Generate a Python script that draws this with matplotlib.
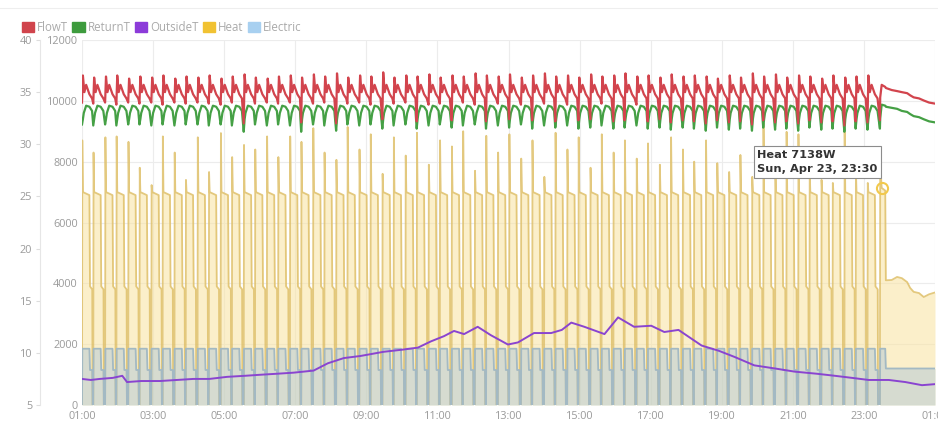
import numpy as np
import pandas as pd
import matplotlib
matplotlib.use("Agg")
import matplotlib.pyplot as plt
import matplotlib.dates as mdates
from matplotlib.patches import Patch
from matplotlib.lines import Line2D

START = pd.Timestamp("2023-04-23 01:00")

# heat pump runs: start of each run in minutes after 01:00
cycle_start = [0, 19, 39, 58, 78, 97, 117, 136, 156, 175, 195, 214, 234, 253, 273,
               292, 312, 331, 351, 370, 390, 409, 429, 448, 468, 487, 507, 526, 546,
               565, 585, 604, 624, 643, 663, 682, 702, 721, 741, 760, 780, 799, 819,
               838, 858, 877, 897, 916, 936, 955, 975, 994, 1014, 1033, 1053, 1072,
               1092, 1111, 1131, 1150, 1170, 1189, 1209, 1228, 1248, 1267, 1287,
               1306, 1326]
heat_peak = [8700, 8300, 8800, 8830, 8650, 7800, 7230, 8830, 8300, 7400, 8800, 7660,
             8940, 8150, 8550, 8400, 8830, 8150, 8830, 8650, 9100, 8300, 8060, 9140,
             8400, 8900, 7600, 8800, 8200, 8950, 7900, 8700, 8500, 9000, 7700, 8850,
             8300, 8900, 8100, 8700, 7500, 8950, 8400, 8800, 7800, 8900, 8300, 8700,
             8100, 8600, 7900, 8800, 8400, 8000, 8700, 7950, 7660, 8220, 7500, 9270,
             8400, 8980, 8900, 7700, 7400, 7300, 8980, 7700, 7300]
flow_peak = [36.6, 36.4, 36.5, 36.6, 36.3, 36.5, 36.4, 36.6, 36.3, 36.5, 36.4, 36.6,
             36.3, 36.5, 36.7, 36.4, 36.3, 36.5, 36.6, 36.4, 36.7, 36.5, 36.8, 36.4,
             36.6, 36.5, 36.9, 36.4, 36.6, 36.5, 36.7, 36.4, 36.6, 36.5, 36.8, 36.6,
             36.5, 36.7, 36.4, 36.6, 36.8, 36.5, 36.6, 36.4, 36.7, 36.5, 36.6, 36.8,
             36.5, 36.6, 36.4, 36.7, 36.5, 36.6, 36.5, 36.3, 36.6, 36.4, 36.8, 36.5,
             36.7, 36.4, 36.6, 36.5, 36.3, 36.6, 36.4, 36.5, 36.6]
flow_low = [34.0, 33.9, 34.0, 33.8, 34.0, 33.9, 34.0, 33.8, 34.0, 33.9, 34.0, 33.9,
            33.8, 34.0, 32.0, 33.9, 34.0, 33.9, 34.0, 32.1, 33.9, 34.0, 32.0, 33.9,
            34.0, 33.8, 32.4, 33.9, 34.0, 32.2, 33.8, 33.9, 32.3, 34.0, 33.8, 32.2,
            33.9, 32.4, 33.8, 32.3, 33.9, 32.2, 33.8, 32.3, 32.4, 33.9, 32.2, 32.3,
            33.8, 32.2, 32.4, 32.1, 32.3, 32.2, 32.0, 32.3, 32.1, 32.2, 31.9, 32.3,
            32.1, 32.2, 32.0, 32.3, 32.1, 32.2, 31.8, 32.2, 32.1]
return_low = [31.9, 31.8, 31.9, 31.8, 31.9, 31.9, 31.8, 31.9, 31.8, 31.9, 31.9, 31.8,
              31.9, 31.8, 31.2, 31.9, 31.8, 31.9, 31.8, 31.2, 31.9, 31.8, 31.3, 31.9,
              31.8, 31.9, 31.5, 31.8, 31.9, 31.5, 31.8, 31.9, 31.6, 31.8, 31.9, 31.5,
              31.8, 31.6, 31.9, 31.5, 31.8, 31.6, 31.8, 31.5, 31.6, 31.8, 31.5, 31.6,
              31.8, 31.5, 31.6, 31.4, 31.6, 31.5, 31.3, 31.6, 31.4, 31.5, 31.3, 31.6,
              31.4, 31.5, 31.3, 31.6, 31.4, 31.5, 31.2, 31.5, 31.4]

# levels held inside a run (minutes after run start, value)
heat_steps = [(1.5, 7000), (12.5, 6900), (13.5, 3900), (17.3, 3800)]
elec_steps = [(1.0, 1850), (12.5, 1850), (13.5, 1150), (17.3, 1150)]
flow_steps = [(4.0, 35.0), (7.0, 35.7), (12.5, 34.8), (17.0, 34.4)]
return_steps = [(3.0, 33.0), (7.0, 33.7), (12.5, 33.6), (17.0, 33.2)]

# last run and continuous running after 23:37
tail_min = [1347, 1347.5, 1350, 1356, 1357, 1367, 1376, 1384, 1393, 1398, 1404,
            1413, 1421, 1430, 1440]
tail_heat = [0, 7950, 7138, 7050, 4100, 4110, 4210, 4170, 4040, 3850, 3720, 3680,
             3550, 3640, 3700]
tail_elec = [0, 1850, 1850, 1850, 1200, 1200, 1200, 1200, 1200, 1200, 1200, 1200,
             1200, 1200, 1200]
tail_flow = [32.3, 34.5, 35.7, 35.5, 35.4, 35.2, 35.1, 35.0, 34.9, 34.7, 34.5, 34.4,
             34.2, 34.0, 33.9]
tail_return = [31.5, 32.5, 33.8, 33.7, 33.6, 33.5, 33.4, 33.2, 33.1, 32.9, 32.7,
               32.6, 32.4, 32.2, 32.1]

outside_min = [0, 15, 30, 52, 68, 76, 100, 132, 160, 188, 215, 245, 275, 301, 330,
               357, 391, 415, 442, 470, 509, 540, 567, 589, 611, 628, 645, 668, 690,
               719, 736, 763, 792, 810, 826, 848, 882, 905, 932, 961, 983, 1007,
               1046, 1075, 1102, 1135, 1170, 1203, 1240, 1271, 1300, 1328, 1362,
               1390, 1418, 1440]
outside_t = [7.5, 7.4, 7.5, 7.6, 7.8, 7.2, 7.3, 7.3, 7.4, 7.5, 7.5, 7.7, 7.8, 7.9,
             8.0, 8.1, 8.3, 9.0, 9.5, 9.7, 10.1, 10.3, 10.5, 11.1, 11.6, 12.1, 11.8,
             12.5, 11.7, 10.8, 11.0, 11.9, 11.9, 12.2, 12.9, 12.5, 11.8, 13.4, 12.5,
             12.6, 12.0, 12.2, 10.7, 10.2, 9.6, 8.8, 8.5, 8.2, 8.0, 7.8, 7.6, 7.4,
             7.4, 7.2, 6.9, 7.0]


def build(low_vals, first_vals, first_off, steps, tail):
    t, v = [], []
    for i, s in enumerate(cycle_start):
        t += [s, s + first_off]
        v += [low_vals[i], first_vals[i]]
        for off, val in steps:
            t.append(s + off)
            v.append(val)
    t += tail_min
    v += tail
    return START + pd.to_timedelta(t, unit="m"), np.array(v, dtype=float)


def build_power(peaks, steps, tail):
    t, v = [], []
    for i, s in enumerate(cycle_start):
        t += [s, s + 0.5]
        v += [0, peaks[i]]
        for off, val in steps:
            t.append(s + off)
            v.append(val)
        t.append(s + 17.9)
        v.append(0)
    t += tail_min
    v += tail
    return START + pd.to_timedelta(t, unit="m"), np.array(v, dtype=float)


heat_t, heat = build_power(heat_peak, heat_steps, tail_heat)
elec_t, elec = build_power([1850] * len(cycle_start), elec_steps, tail_elec)
flow_t, flow = build(flow_low, flow_peak, 1.5, flow_steps, tail_flow)
ret_t, ret = build(return_low, [32.4] * len(cycle_start), 1.5, return_steps, tail_return)
out_t = START + pd.to_timedelta(outside_min, unit="m")

plt.rcParams["font.family"] = ["Open Sans", "DejaVu Sans"]

fig = plt.figure(figsize=(9.38, 4.25), dpi=100)
ax = fig.add_axes([82 / 938, 20 / 425, 853 / 938, 365 / 425])
ax2 = ax.twinx()

ax.fill_between(heat_t, 0, heat, color="#f9e3a0", alpha=0.55, lw=0, zorder=1)
ax.fill_between(elec_t, 0, elec, color="#a9c4d8", alpha=0.45, lw=0, zorder=2)
ax.plot(heat_t, heat, color="#dfc06a", lw=1.3, alpha=0.85, zorder=3)
ax.plot(elec_t, elec, color="#a3b9c3", lw=1.3, zorder=4)

ax2.plot(out_t, outside_t, color="#8a44d0", lw=1.4)
ax2.plot(ret_t, ret, color="#45a045", lw=1.6)
ax2.plot(flow_t, flow, color="#d2444d", lw=1.6)

# tooltip for the last run
hover_t = START + pd.Timedelta(minutes=1350)
ax.plot([hover_t], [7138], marker="o", ms=8, mfc="none", mec="#f2c94c", mew=1.5, zorder=6)
ax.text(START + pd.Timedelta(minutes=1140), 8400, "Heat 7138W\nSun, Apr 23, 23:30",
        ha="left", va="top", fontsize=8.2, fontweight="bold", color="#333333",
        family="DejaVu Sans", linespacing=1.6, zorder=7,
        bbox=dict(boxstyle="square,pad=0.3", fc="white", ec="#8c8c8c", lw=0.8))

ax.set_xlim(START, START + pd.Timedelta(hours=24))
ax.set_ylim(0, 12000)
ax2.set_ylim(5, 40)
ax.set_yticks(range(0, 12001, 2000))
ax2.set_yticks(range(5, 41, 5))

ax.xaxis.set_major_locator(mdates.HourLocator(byhour=range(1, 24, 2)))
ax.xaxis.set_major_formatter(mdates.DateFormatter("%H:%M"))

ax.grid(True, color="#ececec", lw=0.8)
ax.set_axisbelow(True)
for s in ax.spines.values():
    s.set_visible(False)
for s in ax2.spines.values():
    s.set_visible(False)

ax.tick_params(axis="both", length=0, labelsize=7.8, labelcolor="#9a9a9a", pad=3)
ax.tick_params(axis="x", pad=4)

ax2.yaxis.tick_left()
ax2.spines["left"].set_visible(True)
ax2.spines["left"].set_position(("outward", 30))
ax2.spines["left"].set_color("#e6e6e6")
ax2.tick_params(axis="y", length=3, color="#dddddd", labelsize=7.8,
                labelcolor="#9a9a9a", pad=3)

handles = [Patch(color=c) for c in ["#d0444c", "#3d9b3d", "#8c3bd9", "#f1c232", "#a8d0f0"]]
fig.legend(handles, ["FlowT", "ReturnT", "OutsideT", "Heat", "Electric"],
           loc="upper left", bbox_to_anchor=(0.012, 0.975), ncol=5, frameon=False,
           fontsize=8.3, labelcolor="#aaaaaa", handlelength=1.1, handleheight=0.9,
           handletextpad=0.25, columnspacing=0.35)

fig.add_artist(Line2D([0, 1], [1 - 8 / 425] * 2, color="#eeeeee", lw=0.8))

fig.savefig("out.png", dpi=100)
